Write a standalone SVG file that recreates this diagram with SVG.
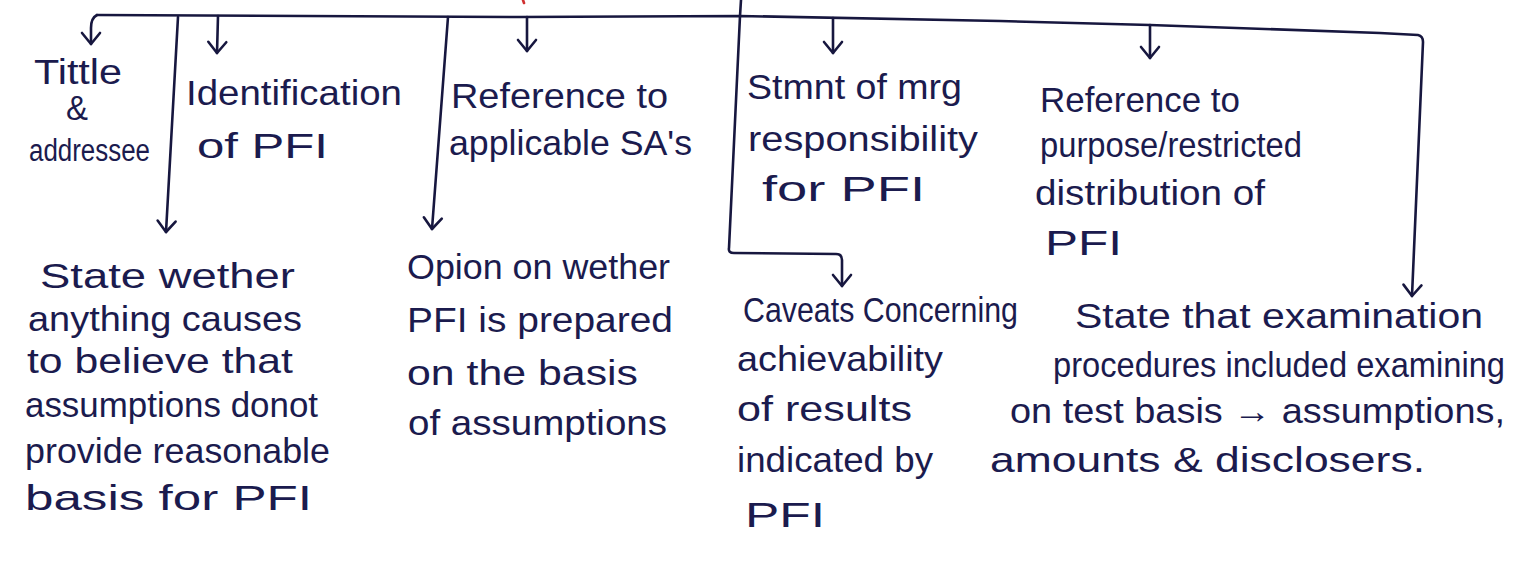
<svg xmlns="http://www.w3.org/2000/svg" width="1535" height="561" viewBox="0 0 1535 561">
<style>
.t{font-family:"Liberation Sans","DejaVu Sans",sans-serif;font-size:35px;fill:#1b1b4e}
.s{font-size:31px}
.c{fill:none;stroke:#17173f;stroke-width:2.6;stroke-linecap:round;stroke-linejoin:round}
</style>
<defs>
<marker id="ah" markerUnits="userSpaceOnUse" markerWidth="24" markerHeight="24" viewBox="-14 -12 16 24" refX="0" refY="0" orient="auto" overflow="visible">
<path d="M-11,-9 L0,0 L-11,9" fill="none" stroke="#17173f" stroke-width="2.6" stroke-linecap="round" stroke-linejoin="round"/>
</marker>
</defs>
<rect width="1535" height="561" fill="#ffffff"/>
<g id="connectors">
<path class="c" d="M523,0 L524,3" style="stroke:#d03030"/>
<path class="c" d="M97,15 L520,17 L740,16 L1000,21 L1150,25 L1380,33 L1418,35 Q1423,36 1423,42 L1412,296" marker-end="url(#ah)"/>
<path class="c" d="M97,15 Q91,18 91,28 L91,44" marker-end="url(#ah)"/>
<path class="c" d="M178,17 L166,232" marker-end="url(#ah)"/>
<path class="c" d="M218,16 L217,53" marker-end="url(#ah)"/>
<path class="c" d="M448,17 L432,229" marker-end="url(#ah)"/>
<path class="c" d="M527,17 L527,51" marker-end="url(#ah)"/>
<path class="c" d="M741,0 L740,16 L729,248 Q728,253 734,253 L836,254 Q842,254 842,260 L842,286" marker-end="url(#ah)"/>
<path class="c" d="M833,18 L833,53" marker-end="url(#ah)"/>
<path class="c" d="M1150,25 L1150,58" marker-end="url(#ah)"/>
</g>
<g id="n1">
<text class="t" x="34" y="84" textLength="88" lengthAdjust="spacingAndGlyphs">Tittle</text>
<text class="t" x="66" y="120" textLength="22" lengthAdjust="spacingAndGlyphs">&amp;</text>
<text class="t s" x="29" y="161" textLength="121" lengthAdjust="spacingAndGlyphs">addressee</text>
</g>
<g id="n2">
<text class="t" x="186" y="105" textLength="216" lengthAdjust="spacingAndGlyphs">Identification</text>
<text class="t" x="197" y="158" textLength="131" lengthAdjust="spacingAndGlyphs">of PFI</text>
</g>
<g id="n3">
<text class="t" x="451" y="108" textLength="217" lengthAdjust="spacingAndGlyphs">Reference to</text>
<text class="t" x="449" y="155" textLength="243" lengthAdjust="spacingAndGlyphs">applicable SA's</text>
</g>
<g id="n4">
<text class="t" x="747" y="99" textLength="215" lengthAdjust="spacingAndGlyphs">Stmnt of mrg</text>
<text class="t" x="748" y="151" textLength="230" lengthAdjust="spacingAndGlyphs">responsibility</text>
<text class="t" x="762" y="201" textLength="163" lengthAdjust="spacingAndGlyphs">for PFI</text>
</g>
<g id="n5">
<text class="t" x="1040" y="112" textLength="200" lengthAdjust="spacingAndGlyphs">Reference to</text>
<text class="t" x="1040" y="157" textLength="262" lengthAdjust="spacingAndGlyphs">purpose/restricted</text>
<text class="t" x="1035" y="205" textLength="230" lengthAdjust="spacingAndGlyphs">distribution of</text>
<text class="t" x="1045" y="255" textLength="77" lengthAdjust="spacingAndGlyphs">PFI</text>
</g>
<g id="n6">
<text class="t" x="40" y="288" textLength="255" lengthAdjust="spacingAndGlyphs">State wether</text>
<text class="t" x="28" y="331" textLength="274" lengthAdjust="spacingAndGlyphs">anything causes</text>
<text class="t" x="27" y="373" textLength="266" lengthAdjust="spacingAndGlyphs">to believe that</text>
<text class="t" x="25" y="417" textLength="293" lengthAdjust="spacingAndGlyphs">assumptions donot</text>
<text class="t" x="25" y="463" textLength="305" lengthAdjust="spacingAndGlyphs">provide reasonable</text>
<text class="t" x="25" y="510" textLength="287" lengthAdjust="spacingAndGlyphs">basis for PFI</text>
</g>
<g id="n7">
<text class="t" x="407" y="279" textLength="263" lengthAdjust="spacingAndGlyphs">Opion on wether</text>
<text class="t" x="407" y="332" textLength="266" lengthAdjust="spacingAndGlyphs">PFI is prepared</text>
<text class="t" x="407" y="385" textLength="231" lengthAdjust="spacingAndGlyphs">on the basis</text>
<text class="t" x="408" y="435" textLength="259" lengthAdjust="spacingAndGlyphs">of assumptions</text>
</g>
<g id="n8">
<text class="t" x="743" y="322" textLength="275" lengthAdjust="spacingAndGlyphs">Caveats Concerning</text>
<text class="t" x="737" y="371" textLength="206" lengthAdjust="spacingAndGlyphs">achievability</text>
<text class="t" x="737" y="421" textLength="175" lengthAdjust="spacingAndGlyphs">of results</text>
<text class="t" x="737" y="472" textLength="196" lengthAdjust="spacingAndGlyphs">indicated by</text>
<text class="t" x="745" y="527" textLength="80" lengthAdjust="spacingAndGlyphs">PFI</text>
</g>
<g id="n9">
<text class="t" x="1075" y="328" textLength="408" lengthAdjust="spacingAndGlyphs">State that examination</text>
<text class="t" x="1053" y="377" textLength="452" lengthAdjust="spacingAndGlyphs">procedures included examining</text>
<text class="t" x="1010" y="423" textLength="495" lengthAdjust="spacingAndGlyphs">on test basis → assumptions,</text>
<text class="t" x="990" y="472" textLength="435" lengthAdjust="spacingAndGlyphs">amounts &amp; disclosers.</text>
</g>
</svg>
